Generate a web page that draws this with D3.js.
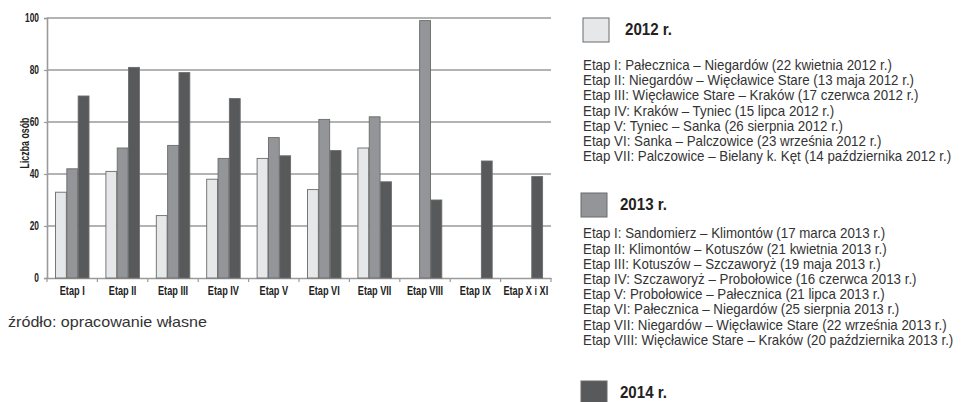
<!DOCTYPE html>
<html><head><meta charset="utf-8">
<script src="https://cdn.jsdelivr.net/npm/d3@7"></script>
<style>
body{margin:0;background:#fff;}
svg{display:block;}
</style></head>
<body>
<svg id="chart" width="976" height="402"></svg>
<script>
const categories = ["Etap I","Etap II","Etap III","Etap IV","Etap V","Etap VI","Etap VII","Etap VIII","Etap IX","Etap X i XI"];
const seriesNames = ["2012 r.","2013 r.","2014 r."];
const values2012 = [33,41,24,38,46,34,50,null,null,null];
const values2013 = [42,50,51,46,54,61,62,99,null,null];
const values2014 = [70,81,79,69,47,49,37,30,45,39];
const yTicks = [0,20,40,60,80,100];
const legend2012 = [
 "Etap I: Pałecznica – Niegardów (22 kwietnia 2012 r.)",
 "Etap II: Niegardów – Więcławice Stare (13 maja 2012 r.)",
 "Etap III: Więcławice Stare – Kraków (17 czerwca 2012 r.)",
 "Etap IV: Kraków – Tyniec (15 lipca 2012 r.)",
 "Etap V: Tyniec – Sanka (26 sierpnia 2012 r.)",
 "Etap VI: Sanka – Palczowice (23 września 2012 r.)",
 "Etap VII: Palczowice – Bielany k. Kęt (14 października 2012 r.)"
];
const legend2013 = [
 "Etap I: Sandomierz – Klimontów (17 marca 2013 r.)",
 "Etap II: Klimontów – Kotuszów (21 kwietnia 2013 r.)",
 "Etap III: Kotuszów – Szczaworyż (19 maja 2013 r.)",
 "Etap IV: Szczaworyż – Probołowice (16 czerwca 2013 r.)",
 "Etap V: Probołowice – Pałecznica (21 lipca 2013 r.)",
 "Etap VI: Pałecznica – Niegardów (25 sierpnia 2013 r.)",
 "Etap VII: Niegardów – Więcławice Stare (22 września 2013 r.)",
 "Etap VIII: Więcławice Stare – Kraków (20 października 2013 r.)"
];
const legend2014 = [];
const yTitle = "Liczba osób";
const sourceText = "źródło: opracowanie własne";

const colors = ["#e6e7e9","#939598","#58595b"];
const allSeries = [values2012, values2013, values2014];

const svg = d3.select("#chart");
const FONT = "'Liberation Sans',Arial,Helvetica,sans-serif";

// measure helper to emulate a condensed face by horizontal scaling
function measure(str, size, weight){
  const t = svg.append("text").attr("font-family",FONT).attr("font-size",size)
    .attr("font-weight",weight).text(str);
  const w = t.node().getComputedTextLength(); t.remove(); return w;
}
function condense(sel, s){
  sel.each(function(){
    const xv = +(this.getAttribute("x")||0);
    this.setAttribute("transform", `translate(${xv},0) scale(${s},1) translate(${-xv},0)`);
  });
}
const sTick = 25 / measure("Etap I", 12.5, "bold");
const sNum = 14 / measure("100", 12, "bold");
const sLeg = 368 / measure(legend2012[6], 14.2, "normal");
const sTitle = 47 / measure(seriesNames[0], 16.5, "bold");
const sY = 51 / measure(yTitle, 13, "bold");

const plot = {left:47, right:551, top:18, bottom:278};
const x = d3.scaleBand().domain(categories).range([plot.left, plot.right]).paddingInner(0).paddingOuter(0);
const y = d3.scaleLinear().domain([0,100]).range([plot.bottom, plot.top]);
const x1 = d3.scaleBand().domain([0,1,2]).range([8, x.bandwidth()-8.4]).padding(0);

// gridlines
svg.append("g").selectAll("line").data(yTicks.filter(d=>d>0)).join("line")
  .attr("x1", plot.left).attr("x2", plot.right)
  .attr("y1", d=>y(d)).attr("y2", d=>y(d))
  .attr("stroke","#9a9a9a").attr("stroke-width",1.6);

// y axis
const yAxis = svg.append("g").attr("transform",`translate(${plot.left},0)`)
  .call(d3.axisLeft(y).tickValues(yTicks).tickSize(3).tickPadding(5));
yAxis.select(".domain").attr("stroke","#9a9a9a").attr("stroke-width",1.6);
yAxis.selectAll(".tick line").attr("stroke","#9a9a9a").attr("stroke-width",1.2);
yAxis.selectAll("text").attr("font-family",FONT).attr("font-weight","bold").attr("font-size",12).attr("fill","#222")
  .attr("x",-8).call(condense, sNum);

// x axis
const xAxis = svg.append("g").attr("transform",`translate(0,${plot.bottom})`)
  .call(d3.axisBottom(x).tickSize(0).tickPadding(8));
xAxis.select(".domain").attr("stroke","#9a9a9a").attr("stroke-width",1.6);
xAxis.selectAll("text").attr("font-family",FONT).attr("font-weight","bold").attr("font-size",12.5).attr("fill","#222")
  .call(condense, sTick);
// boundary ticks
const bounds = categories.map(c=>x(c)).concat([plot.right]);
svg.append("g").selectAll("line").data(bounds).join("line")
  .attr("x1",d=>d).attr("x2",d=>d).attr("y1",plot.bottom).attr("y2",plot.bottom+4)
  .attr("stroke","#9a9a9a").attr("stroke-width",1.2);

// bars
const barData = [];
categories.forEach((c,i)=>{
  allSeries.forEach((s,j)=>{ if(s[i]!=null) barData.push({c, j, v:s[i]}); });
});
svg.append("g").selectAll("rect").data(barData).join("rect")
  .attr("x", d=>x(d.c)+x1(d.j)+0.5)
  .attr("width", x1.bandwidth()-0.5)
  .attr("y", d=>y(d.v))
  .attr("height", d=>plot.bottom - y(d.v))
  .attr("fill", d=>colors[d.j])
  .attr("stroke","#6b6b6b").attr("stroke-width",0.9);

// y title
svg.append("text").attr("transform",`translate(29,143) rotate(-90) scale(${sY},1)`)
  .attr("text-anchor","middle").attr("font-family",FONT).attr("font-weight","bold")
  .attr("font-size",13).attr("fill","#222").text(yTitle);

// source
svg.append("text").attr("x",8).attr("y",327).attr("font-family",FONT)
  .attr("font-size",14).attr("fill","#333").text(sourceText)
  .call(condense, 199 / measure(sourceText, 14, "normal"));

// legend
function legendBlock(sx, sy, title, color, lines, titleX, lineY0){
  svg.append("rect").attr("x",sx).attr("y",sy).attr("width",26).attr("height",24)
    .attr("fill",color).attr("stroke","#6b6b6b").attr("stroke-width",1);
  svg.append("text").attr("x",titleX).attr("y",sy+17.5).attr("font-family",FONT).attr("font-weight","bold")
    .attr("font-size",16.5).attr("fill","#222").text(title).call(condense, sTitle);
  svg.append("g").selectAll("text").data(lines).join("text")
    .attr("x",583).attr("y",(d,i)=>lineY0 + i*15.2)
    .attr("font-family",FONT).attr("font-size",14.2).attr("fill","#333").text(d=>d)
    .call(condense, sLeg);
}
legendBlock(583, 18, seriesNames[0], colors[0], legend2012, 625, 70);
legendBlock(581, 193, seriesNames[1], colors[1], legend2013, 620, 238.5);
legendBlock(581, 381, seriesNames[2], colors[2], legend2014, 620, 420);
</script>
</body></html>
